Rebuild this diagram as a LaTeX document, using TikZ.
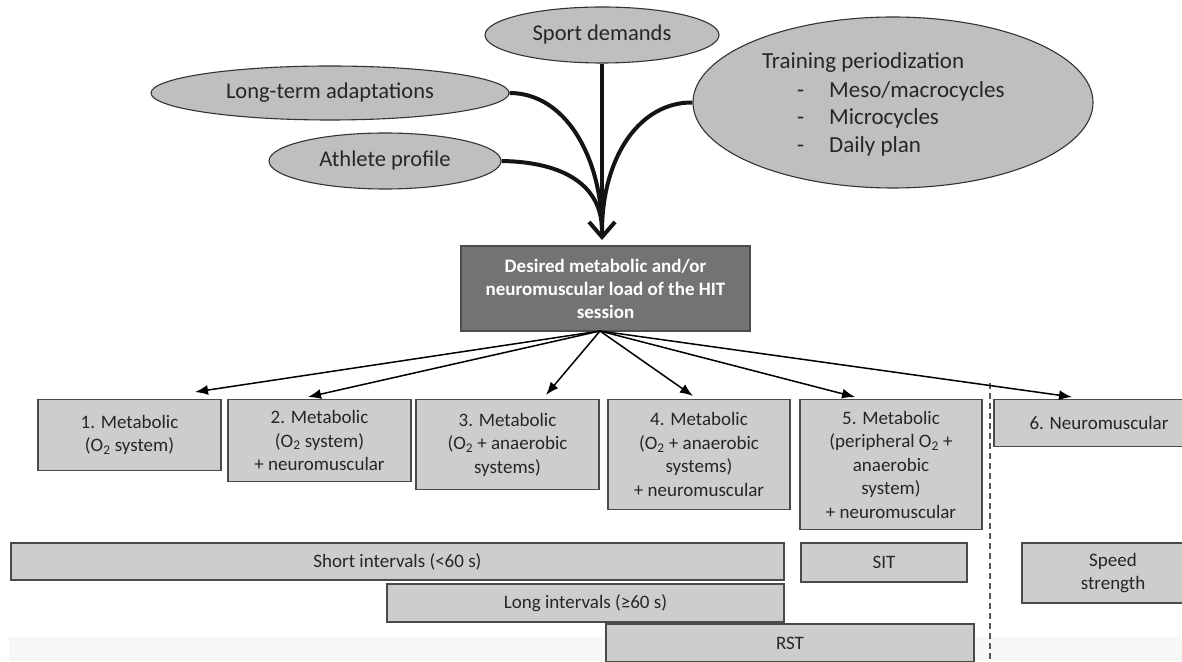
\documentclass[tikz,border=0pt]{standalone}
\usepackage{fontspec}
\setmainfont{Carlito}
\usetikzlibrary{shapes.geometric,arrows.meta,calc}
\definecolor{ellfill}{HTML}{BFBFBF}
\definecolor{boxfill}{HTML}{CDCDCD}
\definecolor{boxdraw}{HTML}{4A4A4A}
\definecolor{darkfill}{HTML}{737373}
\definecolor{darkdraw}{HTML}{4D4D4D}
\definecolor{txt}{HTML}{262626}
\definecolor{band}{HTML}{F7F7F7}
\definecolor{dashcol}{HTML}{555555}
\begin{document}
\begin{tikzpicture}[x=1pt,y=1pt,
 ell/.style={ellipse, draw=black!80, line width=1.1pt, fill=ellfill, inner sep=0pt, text=txt, font=\fontsize{22.5}{27}\selectfont},
 cat/.style={rectangle, draw=boxdraw, line width=1.3pt, fill=boxfill, inner sep=0pt, text=txt, align=center, font=\fontsize{19}{23.5}\selectfont, anchor=north},
 bar/.style={rectangle, draw=boxdraw, line width=1.3pt, fill=boxfill, inner sep=0pt, text=txt, align=center, font=\fontsize{19}{23}\selectfont},
 feed/.style={line width=4pt, draw=black!92},
 fan/.style={line width=1.5pt, -{Latex[length=13pt,width=10pt]}},
 plain/.style={font=\fontsize{23}{27}\selectfont, text=txt, inner sep=0pt, anchor=west, text height=16pt, text depth=5pt},
 dashline/.style={draw=dashcol, line width=1.2pt, dash pattern=on 6pt off 4pt}
]
\useasboundingbox (0,0) rectangle (1182,661);
\fill[band] (9,0) rectangle (1182,24);
\draw[dashline] (990,278) -- (990,0);

% ellipses
\node[ell, minimum width=400, minimum height=171] (training) at (893,558.5) {};
\node[ell, minimum width=234, minimum height=56] (sport) at (602,626) {Sport demands};
\node[ell, minimum width=358, minimum height=54] (longterm) at (330,568) {Long-term adaptations};
\node[ell, minimum width=232, minimum height=56] (athlete) at (385,500) {Athlete profile};
\node[plain] (tp) at (762,598) {Training periodization};
\node[plain] (d1) at (797,569) {-};
\node[plain] (i1) at (829,569) {Meso/macrocycles};
\node[plain] (d2) at (797,542) {-};
\node[plain] (i2) at (829,542) {Microcycles};
\node[plain] (d3) at (797,514) {-};
\node[plain] (i3) at (829,514) {Daily plan};

% central box
\node[rectangle, draw=darkdraw, line width=1.3pt, fill=darkfill, minimum width=289, minimum height=85, inner sep=0pt, text=white, align=center, font=\bfseries\fontsize{19}{23}\selectfont] (hit) at (605.5,372.5) {Desired metabolic and/or\\neuromuscular load of the HIT\\session};

% feeding curves
\coordinate (tip) at (602,421);
\coordinate (merge) at (602,432);
\draw[feed] (longterm.east) .. controls (565,568) and (601,505) .. (merge);
\draw[feed] (athlete.east) .. controls (565,499) and (601,475) .. (merge);
\draw[feed] (training.west) .. controls (640,559) and (603,505) .. (merge);
\draw[feed, -{Straight Barb[length=15pt,width=26pt]}] (sport.south) -- (tip);

% category boxes
\node[cat, minimum width=183, minimum height=71] (b1) at (129.5,262) {1. Metabolic\\(O\textsubscript{2} system)};
\node[cat, minimum width=183, minimum height=82] (b2) at (319.5,262) {2. Metabolic\\(O\textsubscript{2} system)\\+ neuromuscular};
\node[cat, minimum width=183, minimum height=90] (b3) at (507.5,262) {3. Metabolic\\(O\textsubscript{2} + anaerobic\\systems)};
\node[cat, minimum width=182, minimum height=110] (b4) at (699,262) {4. Metabolic\\(O\textsubscript{2} + anaerobic\\systems)\\+ neuromuscular};
\node[cat, minimum width=182, minimum height=130] (b5) at (891,262) {5. Metabolic\\(peripheral O\textsubscript{2} +\\anaerobic\\system)\\+ neuromuscular};
\node[cat, minimum width=210, minimum height=47] (b6) at (1099,262) {6. Neuromuscular};

% fan arrows
\coordinate (hub) at (600,330);
\draw[fan] (hub) -- ($(b1.north)+(65.5,7)$);
\draw[fan] (hub) -- ($(b2.north)+(-11.5,2)$);
\draw[fan] (hub) -- ($(b3.north)+(38.5,4)$);
\draw[fan] (hub) -- ($(b4.north)+(-6,3)$);
\draw[fan] (hub) -- ($(b5.north)+(-36,2)$);
\draw[fan] (hub) -- ($(b6.north)+(-27,2)$);

% bars
\node[bar, minimum width=773, minimum height=37] (short) at (397.5,99.5) {Short intervals (<60 s)};
\node[bar, minimum width=166, minimum height=39] (sit) at (884,98.5) {SIT};
\node[bar, minimum width=182, minimum height=60] (speed) at (1113,88) {Speed\\strength};
\node[bar, minimum width=397, minimum height=38] (long) at (585.5,58) {Long intervals (≥60 s)};
\node[bar, minimum width=368, minimum height=38] (rst) at (790,18) {RST};
\end{tikzpicture}
\end{document}
